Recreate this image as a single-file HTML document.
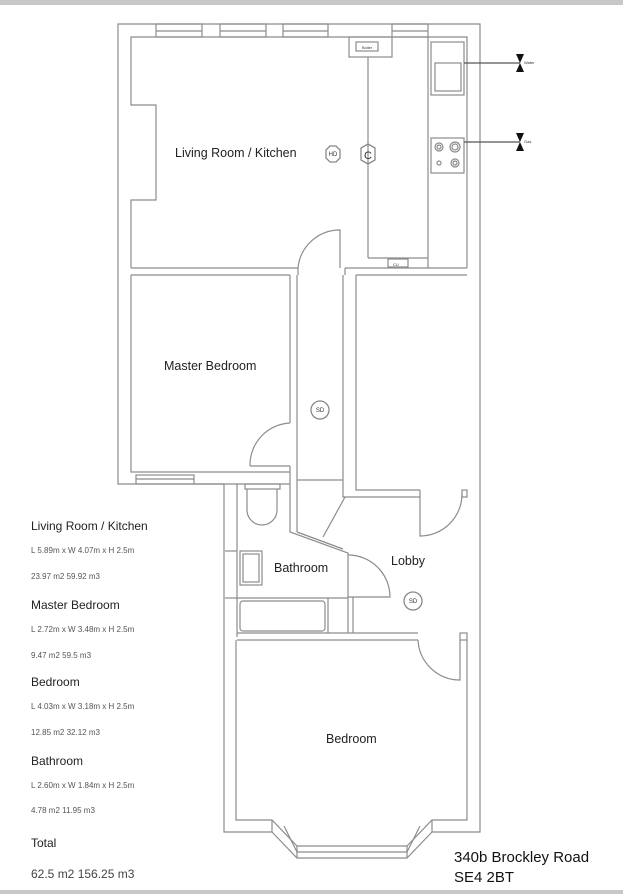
<!DOCTYPE html>
<html><head><meta charset="utf-8"><style>
html,body{margin:0;padding:0;background:#fff;}
svg{display:block;font-family:"Liberation Sans",Arial,sans-serif;}
</style></head><body>
<svg width="623" height="894" viewBox="0 0 623 894" xmlns="http://www.w3.org/2000/svg">
<rect x="0" y="0" width="623" height="5" fill="#c8c8c8"/>
<rect x="0" y="890" width="623" height="4" fill="#c8c8c8"/>
<g fill="none" stroke="#8c8c8c" stroke-width="1.2">
<polyline points="224,484 118,484 118,24 480,24 480,832 432,832"/>
<polyline points="224,484 224,832 272,832"/>
<polyline points="131,268 131,200 156,200 156,105 131,105 131,37 467,37 467,268"/>
<g>
<rect x="156" y="24" width="46" height="13"/><line x1="156" y1="31" x2="202" y2="31"/>
<rect x="220" y="24" width="46" height="13"/><line x1="220" y1="31" x2="266" y2="31"/>
<rect x="283" y="24" width="45" height="13"/><line x1="283" y1="31" x2="328" y2="31"/>
<rect x="392" y="24" width="36" height="13"/><line x1="392" y1="31" x2="428" y2="31"/>
</g>
<rect x="349" y="37" width="43" height="20"/>
<rect x="356" y="42" width="22" height="9"/>
<line x1="368" y1="57" x2="368" y2="258"/>
<line x1="368" y1="258" x2="428" y2="258"/>
<rect x="388" y="259" width="20" height="8"/>
<line x1="428" y1="37" x2="428" y2="268"/>
<rect x="431" y="42" width="33" height="53"/>
<rect x="435" y="63" width="26" height="28"/>
<rect x="431" y="138" width="33" height="35"/>
<circle cx="439" cy="147" r="4"/><circle cx="439" cy="147" r="2"/>
<circle cx="455" cy="147" r="5"/><circle cx="455" cy="147" r="3"/>
<circle cx="439" cy="163" r="2"/>
<circle cx="455" cy="163" r="4"/><circle cx="455" cy="163" r="2"/>
<line x1="464" y1="63" x2="520" y2="63" stroke="#555"/>
<line x1="464" y1="142" x2="520" y2="142" stroke="#555"/>
<line x1="131" y1="268" x2="298" y2="268"/><line x1="131" y1="275" x2="290" y2="275"/>
<line x1="345" y1="268" x2="467" y2="268"/><line x1="356" y1="275" x2="467" y2="275"/>
<path d="M298,268 A42,42 0 0 1 340,230 L340,268"/>
<line x1="298" y1="268" x2="298" y2="275"/><line x1="345" y1="268" x2="345" y2="275"/>
<polyline points="131,275 131,472 290,472"/>
<polyline points="290,275 290,423"/><polyline points="297,275 297,532"/>
<path d="M250,466 A42,42 0 0 1 290,423"/><line x1="250" y1="466" x2="290" y2="466"/>
<polyline points="290,466 290,532 348,553 348,633"/>
<line x1="297" y1="532" x2="343" y2="549"/>
<rect x="136" y="475" width="58" height="9"/>
<line x1="136" y1="479" x2="194" y2="479"/>
<line x1="194" y1="484" x2="290" y2="484"/>
<polyline points="343,275 343,497 350,497"/>
<polyline points="356,275 356,490 420,490"/>
<line x1="350" y1="497" x2="420" y2="497"/>
<line x1="297" y1="480" x2="343" y2="480"/>
<line x1="345" y1="497" x2="323" y2="537"/>
<path d="M420,497 L420,536 A42,42 0 0 0 462,494"/>
<line x1="420" y1="490" x2="420" y2="497"/>
<rect x="462" y="490" width="5" height="7"/>
<line x1="237" y1="484" x2="237" y2="637"/>
<rect x="245" y="484" width="35" height="5"/>
<path d="M247,489 L247,510 A15,15 0 0 0 277,510 L277,489"/>
<rect x="240" y="551" width="22" height="34"/>
<rect x="243" y="554" width="16" height="28"/>
<line x1="225" y1="551" x2="237" y2="551"/><line x1="225" y1="598" x2="237" y2="598"/>
<rect x="240" y="601" width="85" height="30" rx="3"/>
<line x1="237" y1="598" x2="348" y2="598"/>
<line x1="328" y1="598" x2="328" y2="633"/>
<path d="M348,555 A42,42 0 0 1 390,597 L348,597"/>
<line x1="353" y1="597" x2="353" y2="633"/>
<line x1="237" y1="633" x2="418" y2="633"/>
<line x1="237" y1="640" x2="418" y2="640"/>
<path d="M418,640 A42,42 0 0 0 460,680 L460,640"/>
<rect x="460" y="633" width="7" height="7"/>
<polyline points="236,640 236,820 272,820 297,846 407,846 432,820 467,820 467,640"/>
<polyline points="272,832 297,858 407,858 432,832"/>
<line x1="272" y1="820" x2="272" y2="832"/><line x1="432" y1="820" x2="432" y2="832"/>
<line x1="297" y1="846" x2="297" y2="858"/><line x1="407" y1="846" x2="407" y2="858"/>
<line x1="297" y1="852" x2="407" y2="852"/>
<line x1="284" y1="826" x2="297" y2="852"/>
<line x1="420" y1="826" x2="407" y2="852"/>
</g>
<g fill="none" stroke="#888" stroke-width="1.3">
<polygon points="326,150 330,146 336,146 340,150 340,158 336,162 330,162 326,158"/>
<polygon points="368,144 375,148 375,160 368,164 361,160 361,148"/>
<circle cx="320" cy="410" r="9"/>
<circle cx="413" cy="601" r="9"/>
</g>
<g fill="#111">
<polygon points="516,54 524,54 520,63"/><polygon points="516,72 524,72 520,63"/>
<polygon points="516,133 524,133 520,142"/><polygon points="516,151 524,151 520,142"/>
</g>
<g fill="#333" font-size="4"><text x="524" y="64">Water</text><text x="524" y="143">Gas</text>
<text x="362" y="49">Boiler</text><text x="393" y="266">CU</text></g>
<g fill="#333" font-size="6" text-anchor="middle"><text x="333" y="156">HD</text><text x="320" y="412">SD</text><text x="413" y="603">SD</text></g>
<text x="368" y="159" font-size="11" fill="#333" text-anchor="middle">C</text>
<g fill="#222" font-size="12.5">
<text x="175" y="157">Living Room / Kitchen</text>
<text x="164" y="370">Master Bedroom</text>
<text x="274" y="572">Bathroom</text>
<text x="391" y="565">Lobby</text>
<text x="326" y="743">Bedroom</text>
</g>
<g fill="#222" font-size="12">
<text x="31" y="530">Living Room / Kitchen</text>
<text x="31" y="609">Master Bedroom</text>
<text x="31" y="686">Bedroom</text>
<text x="31" y="765">Bathroom</text>
<text x="31" y="847">Total</text>
</g>
<g fill="#555" font-size="8">
<text x="31" y="553">L 5.89m x W 4.07m x H 2.5m</text>
<text x="31" y="579">23.97 m2  59.92 m3</text>
<text x="31" y="632">L 2.72m x W 3.48m x H 2.5m</text>
<text x="31" y="658">9.47 m2  59.5 m3</text>
<text x="31" y="709">L 4.03m x W 3.18m x H 2.5m</text>
<text x="31" y="735">12.85 m2  32.12 m3</text>
<text x="31" y="788">L 2.60m x W 1.84m x H 2.5m</text>
<text x="31" y="813">4.78 m2  11.95 m3</text>
</g>
<text x="31" y="878" font-size="12" fill="#444">62.5 m2  156.25 m3</text>
<g fill="#111" font-size="15"><text x="454" y="862">340b Brockley Road</text><text x="454" y="882">SE4 2BT</text></g>
</svg>
</body></html>
